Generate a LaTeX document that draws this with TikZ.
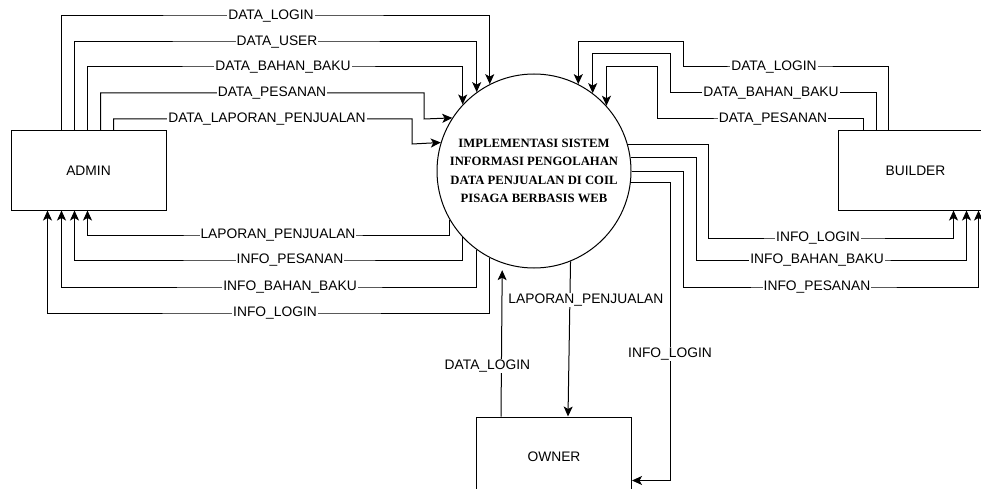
\documentclass[tikz,border=0pt]{standalone}
\usepackage{fontspec}
\setmainfont{Liberation Sans}
\newfontfamily\procfont{Liberation Serif}
\usetikzlibrary{arrows.meta}

\begin{document}
\begin{tikzpicture}[
  x=1pt, y=1pt,
  font=\fontsize{13.8}{16}\selectfont,
  >={Stealth[length=10pt,width=9pt,inset=2.5pt]},
  % external entity box (admin, builder, owner)
  entity/.style={draw, line width=1pt, minimum width=155pt,
                 minimum height=79pt, inner sep=0pt},
  % central process circle
  process/.style={draw, circle, line width=1pt, minimum size=194pt,
                  inner sep=0pt, align=center,
                  font=\procfont\bfseries\fontsize{12.7}{18.5}\selectfont},
  % data flows
  flow/.style={->, line width=1pt},
  lbl/.style={fill=white, inner sep=1pt},
]

\useasboundingbox (0,0) rectangle (981,-489);

%% ── Nodes ────────────────────────────────────────────────────────────────
\node[process] (sys) at (534,-171)
  {IMPLEMENTASI SISTEM\\INFORMASI PENGOLAHAN\\DATA PENJUALAN DI COIL\\PISAGA BERBASIS WEB};
\node[entity] (admin)   at (88.5,-170.5)  {ADMIN};
\node[entity] (builder) at (915.5,-170.5) {BUILDER};
\node[entity] (owner)   at (554,-456.5)   {OWNER};

%% ── Admin -> system (over the top) ───────────────────────────────────────
\foreach \sx/\y/\lx/\ang/\lab in {51/-16/271/117.64/DATA\_LOGIN,
                                  64/-42/277/126.7/DATA\_USER,
                                  77/-67/283/137.05/DATA\_BAHAN\_BAKU}
  \draw[flow] ([xshift=\sx]admin.north west) |- (\lx,\y) node[lbl] {\lab} -| (sys.\ang);

\foreach \sx/\y/\lx/\x/\yb/\ang/\lab in {90/-93/272/424/-119/147.6/DATA\_PESANAN,
                                         103/-119/267/412/-144/163.8/DATA\_LAPORAN\_PENJUALAN}
  \draw[flow] ([xshift=\sx]admin.north west) |- (\lx,\y) node[lbl] {\lab} -| (\x,\yb) -- (sys.\ang);

%% ── System -> admin (underneath) ─────────────────────────────────────────
\foreach \ang/\y/\lx/\sx/\lab in {-150/-235/278/77/LAPORAN\_PENJUALAN,
                                  -137.05/-260/290/64/INFO\_PESANAN,
                                  -126.7/-287/290/51/INFO\_BAHAN\_BAKU,
                                  -117.64/-313/275/37/INFO\_LOGIN}
  \draw[flow] (sys.\ang) |- (\lx,\y) node[lbl] {\lab} -| ([xshift=\sx]admin.south west);

%% ── Builder -> system (over the top) ─────────────────────────────────────
\foreach \sx/\y/\lx/\x/\yb/\ang/\lab in {51/-67/774/683/-42/63/DATA\_LOGIN,
                                         39/-93/771/670/-54/53.3/DATA\_BAHAN\_BAKU,
                                         26/-119/773/657/-67/42.95/DATA\_PESANAN}
  \draw[flow] ([xshift=\sx]builder.north west) |- (\lx,\y) node[lbl] {\lab}
    -- (\x,\y) -- (\x,\yb) -| (sys.\ang);

%% ── System -> builder (underneath) ───────────────────────────────────────
\foreach \ang/\x/\y/\lx/\sx/\lab in {16.78/708/-238/818/116/INFO\_LOGIN,
                                     8.3/696/-260/817/129/INFO\_BAHAN\_BAKU,
                                     0/683/-287/817/141/INFO\_PESANAN}
  \draw[flow] (sys.\ang) -| (\x,\y) -- (\lx,\y) node[lbl] {\lab}
    -| ([xshift=\sx]builder.south west);

%% ── Owner flows ──────────────────────────────────────────────────────────
\draw[flow, shorten >=7pt] ([xshift=25]owner.north west) --
  node[lbl, pos=0.33, xshift=-14] {DATA\_LOGIN} (sys.-109.3);
\draw[flow] (sys.-68.85) --
  node[lbl, pos=0.25, xshift=16] {LAPORAN\_PENJUALAN} ([xshift=92]owner.north west);
\draw[flow] (sys.-7.1) -| (670,-354) node[lbl] {INFO\_LOGIN}
  |- ([yshift=-64]owner.north east);

\end{tikzpicture}
\end{document}
